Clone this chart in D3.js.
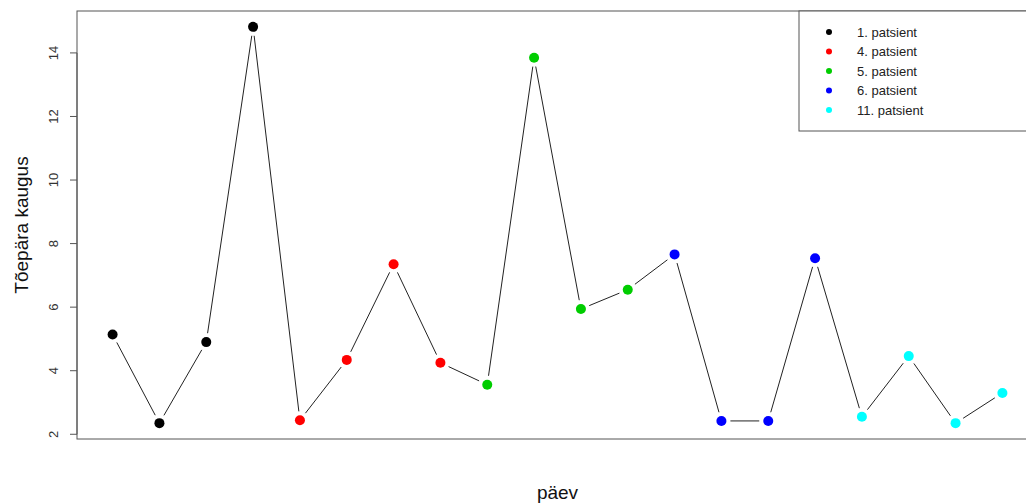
<!DOCTYPE html>
<html>
<head>
<meta charset="utf-8">
<script src="https://cdn.jsdelivr.net/npm/d3@7"></script>
<style>
  body { margin: 0; background: #fff; }
  svg { display: block; font-family: "Liberation Sans", Arial, sans-serif; }
</style>
</head>
<body>
<div id="chart"></div>
<script>
// values, one point per day
const days = d3.range(1, 21);
const distance = [5.14, 2.35, 4.90, 14.82, 2.44, 4.34, 7.35, 4.25, 3.56, 13.85,
                  5.94, 6.55, 7.66, 2.42, 2.42, 7.54, 2.55, 4.46, 2.35, 3.30];
const pointColor = ["#000000", "#000000", "#000000", "#000000",
                    "#FF0000", "#FF0000", "#FF0000", "#FF0000",
                    "#00CD00", "#00CD00", "#00CD00", "#00CD00",
                    "#0000FF", "#0000FF", "#0000FF", "#0000FF",
                    "#00FFFF", "#00FFFF", "#00FFFF", "#00FFFF"];
const legendLabels = ["1. patsient", "4. patsient", "5. patsient", "6. patsient", "11. patsient"];
const legendColors = ["#000000", "#FF0000", "#00CD00", "#0000FF", "#00FFFF"];
const yTicks = [2, 4, 6, 8, 10, 12, 14];

const width = 1026, height = 504;
const box = { left: 77, top: 11, right: 1038, bottom: 439 };

const svg = d3.select("#chart").append("svg")
  .attr("width", width)
  .attr("height", height);

// R style axis extension of 4%
const xr = d3.extent(days), yr = d3.extent(distance);
const xPad = (xr[1] - xr[0]) * 0.04, yPad = (yr[1] - yr[0]) * 0.04;

const x = d3.scaleLinear().domain([xr[0] - xPad, xr[1] + xPad]).range([box.left, box.right]);
const y = d3.scaleLinear().domain([yr[0] - yPad, yr[1] + yPad]).range([box.bottom, box.top]);

// line segments with a gap round each point (type = "b")
const gap = 9;
const lines = svg.append("g");
for (let i = 0; i < days.length - 1; i++) {
  const x1 = x(days[i]), y1 = y(distance[i]);
  const x2 = x(days[i + 1]), y2 = y(distance[i + 1]);
  const len = Math.hypot(x2 - x1, y2 - y1);
  if (len <= 2 * gap) continue;
  const ux = (x2 - x1) / len, uy = (y2 - y1) / len;
  lines.append("line")
    .attr("x1", x1 + ux * gap)
    .attr("y1", y1 + uy * gap)
    .attr("x2", x2 - ux * gap)
    .attr("y2", y2 - uy * gap)
    .attr("stroke", "#222")
    .attr("stroke-width", 1);
}

svg.append("g").selectAll("circle")
  .data(days)
  .join("circle")
  .attr("cx", d => x(d))
  .attr("cy", (d, i) => y(distance[i]))
  .attr("r", 5)
  .attr("fill", (d, i) => pointColor[i]);

// plot frame
svg.append("rect")
  .attr("x", box.left)
  .attr("y", box.top)
  .attr("width", box.right - box.left)
  .attr("height", box.bottom - box.top)
  .attr("fill", "none")
  .attr("stroke", "#555")
  .attr("stroke-width", 1);

// y axis
const yAxis = svg.append("g").attr("transform", `translate(${box.left},0)`)
  .call(d3.axisLeft(y).tickValues(yTicks).tickSize(7).tickSizeOuter(0));
yAxis.select(".domain")
  .attr("d", `M0,${y(yTicks[0])}V${y(yTicks[yTicks.length - 1])}`)
  .attr("stroke", "#555");
yAxis.selectAll(".tick").attr("transform", null);
yAxis.selectAll(".tick line")
  .attr("stroke", "#555")
  .attr("y1", d => y(d))
  .attr("y2", d => y(d));
yAxis.selectAll(".tick text")
  .attr("x", null)
  .attr("y", 0)
  .attr("dy", "0.35em")
  .attr("text-anchor", "middle")
  .attr("font-size", 13)
  .attr("fill", "#333")
  .attr("transform", d => `translate(-24,${y(d)}) rotate(-90)`);

// axis titles
svg.append("text")
  .attr("transform", `translate(28,${(box.top + box.bottom) / 2}) rotate(-90)`)
  .attr("text-anchor", "middle")
  .attr("font-size", 19)
  .attr("fill", "#111")
  .text("Tõepära kaugus");

svg.append("text")
  .attr("x", (box.left + box.right) / 2)
  .attr("y", 499)
  .attr("text-anchor", "middle")
  .attr("font-size", 19)
  .attr("fill", "#111")
  .text("päev");

// legend
const legend = svg.append("g");
legend.append("rect")
  .attr("x", 799)
  .attr("y", box.top)
  .attr("width", 260)
  .attr("height", 120)
  .attr("fill", "#fff")
  .attr("stroke", "#555")
  .attr("stroke-width", 1);

const item = legend.selectAll("g.item")
  .data(legendLabels)
  .join("g")
  .attr("class", "item")
  .attr("transform", (d, i) => `translate(0,${32 + i * 19.5})`);
item.append("circle")
  .attr("cx", 829)
  .attr("cy", 0)
  .attr("r", 3)
  .attr("fill", (d, i) => legendColors[i]);
item.append("text")
  .attr("x", 857)
  .attr("y", 0)
  .attr("dy", "0.35em")
  .attr("font-size", 13)
  .attr("fill", "#222")
  .text(d => d);
</script>
</body>
</html>
